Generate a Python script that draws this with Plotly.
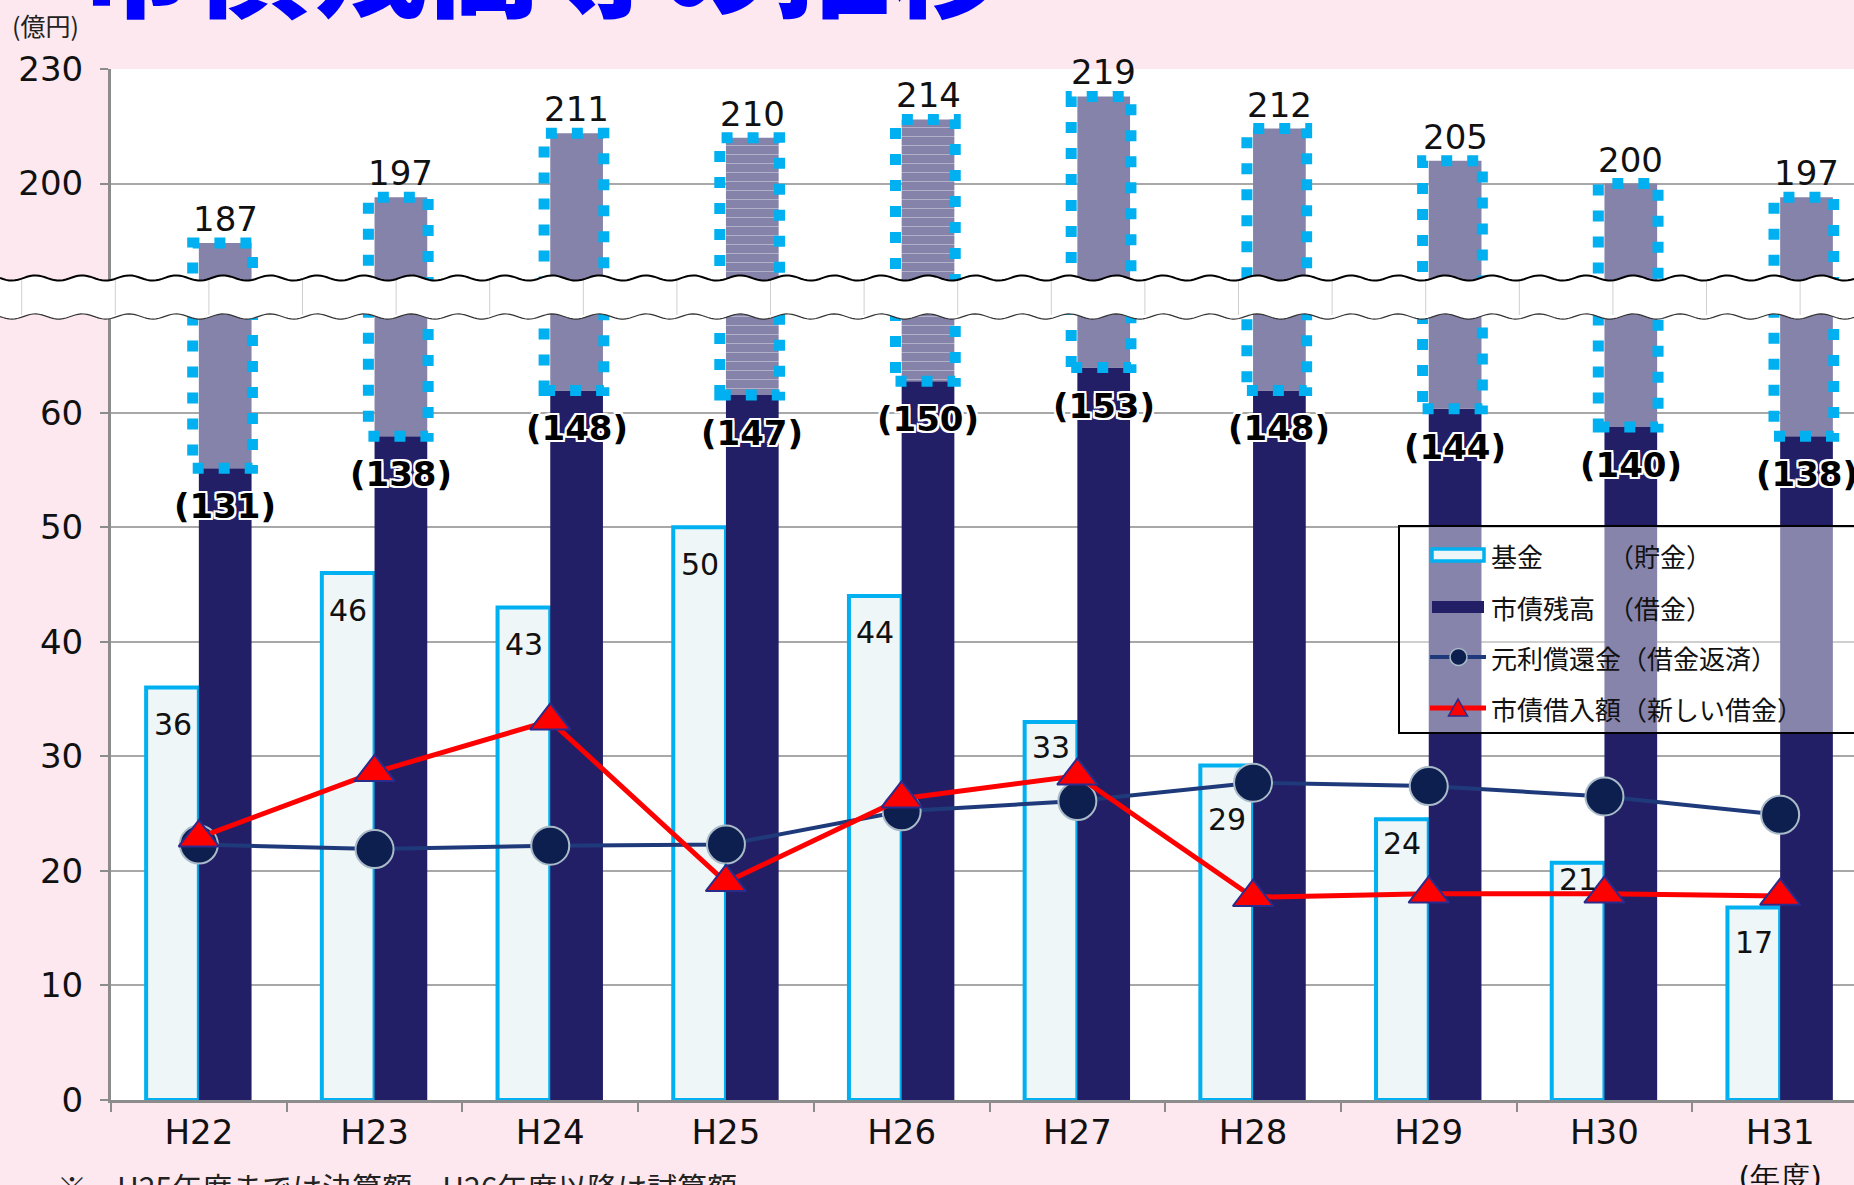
import numpy as np
import plotly.graph_objects as go

# ---------------- data ----------------
years = ["H22", "H23", "H24", "H25", "H26", "H27", "H28", "H29", "H30", "H31"]
year_ticktext = ["H22", "H23", "H24", "H25", "H26", "H27", "H28", "H29", "H30",
                 "H31<br><span style='font-size:30px'>(年度)</span>"]
fund = [36, 46, 43, 50, 44, 33, 29.2, 24.5, 20.7, 16.8]            # 基金（貯金）
debt_balance = [131, 138, 148, 147, 150, 153, 148, 144, 140, 138]  # 市債残高（借金） ( ) 内
debt_total = [187, 197, 211, 210, 214, 219, 212, 205, 200, 197]    # 市債残高 合計
repayment = [22.3, 21.9, 22.2, 22.3, 25.2, 26.1, 27.7, 27.4, 26.5, 24.9]  # 元利償還金
borrowing = [22.9, 28.6, 33.1, 19.0, 26.3, 28.3, 17.7, 18.0, 18.0, 17.8]  # 市債借入額
y_tickvals = [0, 10, 20, 30, 40, 50, 60, 80, 90]
y_ticktext = ["0", "10", "20", "30", "40", "50", "60", "200", "230"]
fund_label_drop = [37, 37, 37, 37, 37, 26, 54, 24, 17, 35]   # label placement (px)
hatch_shape = ["", "", "", "-", "-", "", "", "", "", ""]

# broken axis scale for 市債残高 (lower / upper segments)
def debt_lower(v):
    return 0.4 * v + 2.74

def debt_upper(v):
    return 0.4 * v

# ---------------- geometry ----------------
W, H = 1854, 1185
L, R, T, B = 111, 0, 69, 85
PW, PH = W - L - R, H - T - B
CAT = 175.7
XMAX = -0.5 + PW / CAT

def px2x(px):
    return (px - L) / PW

def py2y(py):
    return (T + PH - py) / PH

NAVY = "#231F67"
CYAN = "#00B0F0"
NUMF = "DejaVu Sans"
JPF = "Noto Sans CJK JP"

navy_h = [debt_lower(v) for v in debt_balance]
top_h = [debt_upper(v) for v in debt_total]

fig = go.Figure()

fig.add_bar(x=years, y=fund, offset=-0.3, width=0.3,
            marker=dict(color="#EEF6F8", line=dict(color=CYAN, width=4)),
            showlegend=False, hoverinfo="skip")
fig.add_bar(x=years, y=navy_h, offset=0, width=0.3,
            marker=dict(color=NAVY, line=dict(width=0)),
            showlegend=False, hoverinfo="skip")
fig.add_bar(x=years, y=[t - b for t, b in zip(top_h, navy_h)], base=navy_h,
            offset=0, width=0.3,
            marker=dict(color="#8583AA", line=dict(width=0),
                        pattern=dict(shape=hatch_shape, fgcolor="white", size=9,
                                     solidity=0.08, fillmode="overlay")),
            showlegend=False, hoverinfo="skip")

fig.add_scatter(x=years, y=repayment, mode="lines+markers",
                line=dict(color="#1F3A7A", width=4),
                marker=dict(symbol="circle", size=38, color="#0D1F4F",
                            line=dict(color="#A9BBC9", width=2)),
                showlegend=False, hoverinfo="skip")
fig.add_scatter(x=years, y=borrowing, mode="lines+markers",
                line=dict(color="#FF0000", width=5),
                marker=dict(symbol="triangle-up", size=35, color="#FF0000",
                            line=dict(color="#2B2B8C", width=2)),
                showlegend=False, hoverinfo="skip")

shapes = []
# dotted borders around the hatched part
for i in range(len(years)):
    shapes.append(dict(type="rect", xref="x", yref="y", x0=i - 0.035, x1=i + 0.305,
                       y0=navy_h[i], y1=top_h[i], layer="above",
                       line=dict(color=CYAN, width=11, dash="11px,15px"),
                       fillcolor="rgba(0,0,0,0)"))

# axis break band
xs = np.arange(0, W + 4, 3.0)
top_w = 278 + 2.6 * np.sin(2 * np.pi * xs / 47)
bot_w = 316.5 + 2.6 * np.sin(2 * np.pi * xs / 47)
pts_top = [f"{px2x(a):.5f},{py2y(b):.5f}" for a, b in zip(xs, top_w)]
pts_bot = [f"{px2x(a):.5f},{py2y(b):.5f}" for a, b in zip(xs[::-1], bot_w[::-1])]
shapes.append(dict(type="path", xref="paper", yref="paper", layer="above",
                   path="M" + " L".join(pts_top) + " L" + " L".join(pts_bot) + " Z",
                   fillcolor="white", line=dict(width=0)))
for k in range(20):
    vx = 21.7 + 93.6 * k
    shapes.append(dict(type="line", xref="paper", yref="paper", layer="above",
                       x0=px2x(vx), x1=px2x(vx), y0=py2y(280), y1=py2y(315),
                       line=dict(color="#CFCFCF", width=1)))
shapes.append(dict(type="path", xref="paper", yref="paper", layer="above",
                   path="M" + " L".join(pts_top), line=dict(color="black", width=2)))
pts_bot_f = [f"{px2x(a):.5f},{py2y(b):.5f}" for a, b in zip(xs, bot_w)]
shapes.append(dict(type="path", xref="paper", yref="paper", layer="above",
                   path="M" + " L".join(pts_bot_f), line=dict(color="#333333", width=1.2)))

# legend (drawn)
shapes.append(dict(type="rect", xref="paper", yref="paper", layer="above",
                   x0=px2x(1399), x1=px2x(1870), y0=py2y(733), y1=py2y(526),
                   fillcolor="rgba(255,255,255,0.45)", line=dict(color="black", width=2)))
rows = [555, 607, 657, 708]
shapes.append(dict(type="rect", xref="paper", yref="paper", layer="above",
                   x0=px2x(1432), x1=px2x(1484), y0=py2y(rows[0] + 6), y1=py2y(rows[0] - 6),
                   fillcolor="#EEF6F8", line=dict(color=CYAN, width=3.5)))
shapes.append(dict(type="rect", xref="paper", yref="paper", layer="above",
                   x0=px2x(1432), x1=px2x(1484), y0=py2y(rows[1] + 6), y1=py2y(rows[1] - 6),
                   fillcolor=NAVY, line=dict(width=0)))
shapes.append(dict(type="line", xref="paper", yref="paper", layer="above",
                   x0=px2x(1430), x1=px2x(1486), y0=py2y(rows[2]), y1=py2y(rows[2]),
                   line=dict(color="#1F3A7A", width=4)))
shapes.append(dict(type="circle", xref="paper", yref="paper", layer="above",
                   x0=px2x(1450), x1=px2x(1467), y0=py2y(rows[2] + 8.5), y1=py2y(rows[2] - 8.5),
                   fillcolor="#0D1F4F", line=dict(color="#A9BBC9", width=1.5)))
shapes.append(dict(type="line", xref="paper", yref="paper", layer="above",
                   x0=px2x(1430), x1=px2x(1486), y0=py2y(rows[3]), y1=py2y(rows[3]),
                   line=dict(color="#FF0000", width=5)))
tri = (f"M{px2x(1448.5):.5f},{py2y(rows[3] + 8):.5f} L{px2x(1467.5):.5f},{py2y(rows[3] + 8):.5f} "
       f"L{px2x(1458):.5f},{py2y(rows[3] - 9):.5f} Z")
shapes.append(dict(type="path", xref="paper", yref="paper", layer="above", path=tri,
                   fillcolor="#FF0000", line=dict(color="#2B2B8C", width=1.5)))

legend_texts = ["基金　　　（貯金）", "市債残高　（借金）",
                "元利償還金（借金返済）", "市債借入額（新しい借金）"]

annotations = []
for r, txt in zip(rows, legend_texts):
    annotations.append(dict(xref="paper", yref="paper", x=px2x(1489), y=py2y(r),
                            xanchor="left", yanchor="middle", text=txt, showarrow=False,
                            font=dict(family=JPF, size=26, color="#111111")))

outline = ("-2px -2px 0 #fff, 2px -2px 0 #fff, -2px 2px 0 #fff, 2px 2px 0 #fff, "
           "0 2px 0 #fff, 2px 0 0 #fff, 0 -2px 0 #fff, -2px 0 0 #fff")
for i in range(len(years)):
    annotations.append(dict(x=i + 0.15, y=top_h[i], xref="x", yref="y", yanchor="bottom",
                            yshift=2, text=str(debt_total[i]), showarrow=False,
                            font=dict(family=NUMF, size=34, color="#111111")))
    annotations.append(dict(x=i + 0.15, y=navy_h[i], xref="x", yref="y", yanchor="middle",
                            yshift=-38, text=f"({debt_balance[i]})", showarrow=False,
                            font=dict(family=NUMF, size=34, color="black", weight="bold",
                                      shadow=outline)))
    annotations.append(dict(x=i - 0.15, y=fund[i], xref="x", yref="y", yanchor="middle",
                            yshift=-fund_label_drop[i], text=f"{fund[i]:.0f}", showarrow=False,
                            font=dict(family=NUMF, size=30, color="#111111")))

annotations.append(dict(xref="paper", yref="paper", x=px2x(76), y=1, xanchor="left",
                        yanchor="bottom", yshift=26, text="市債残高等の推移",
                        showarrow=False,
                        font=dict(family=JPF, size=116, color="#0000FF", weight=900)))
annotations.append(dict(xref="paper", yref="paper", x=px2x(10), y=1, xanchor="left",
                        yanchor="middle", yshift=44, text="(億円)", showarrow=False,
                        font=dict(family=JPF, size=25, color="#222222")))
annotations.append(dict(xref="paper", yref="paper", x=px2x(55), y=0, xanchor="left",
                        yanchor="top", yshift=-62,
                        text="※　H25年度までは決算額、H26年度以降は試算額",
                        showarrow=False, font=dict(family=JPF, size=30, color="#222222")))

fig.update_layout(
    width=W, height=H, margin=dict(l=L, r=R, t=T, b=B, pad=0, autoexpand=False),
    paper_bgcolor="#FCE8EE", plot_bgcolor="white",
    barmode="overlay", showlegend=False,
    shapes=shapes, annotations=annotations,
    xaxis=dict(type="category", range=[-0.5, XMAX], tickmode="array", tickvals=years,
               ticktext=year_ticktext, tickson="boundaries", ticks="outside", ticklen=9,
               tickwidth=2, tickcolor="#8C8C8C", showgrid=False, showline=True,
               linecolor="#8C8C8C", linewidth=3, zeroline=False, automargin=False,
               tickfont=dict(family=NUMF, size=34, color="#111111")),
    yaxis=dict(range=[0, 90], tickmode="array", tickvals=y_tickvals, ticktext=y_ticktext,
               ticks="outside", ticklen=8, tickwidth=2, tickcolor="#8C8C8C",
               showgrid=True, gridcolor="#A8A8A8", gridwidth=2, showline=True,
               linecolor="#8C8C8C", linewidth=3, zeroline=False, ticklabelstandoff=10,
               automargin=False,
               tickfont=dict(family=NUMF, size=34, color="#111111")),
)

fig.write_html("out.html", config={"displayModeBar": False},
               post_script="document.body.style.margin='0';document.body.style.overflow='hidden';")
